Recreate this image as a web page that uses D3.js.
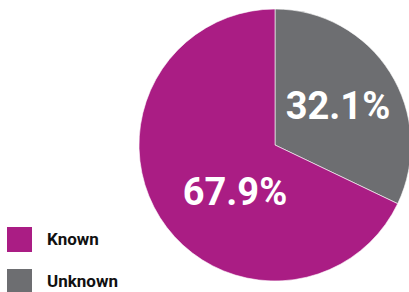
<!DOCTYPE html>
<html><head><meta charset="utf-8">
<script src="https://cdn.jsdelivr.net/npm/d3@7"></script>
<style>body{margin:0;background:#fff}svg{display:block}</style>
</head><body>
<script>
const categories = ["Unknown", "Known"];
const values = [32.1, 67.9];
const labels = ["32.1%", "67.9%"];
const legendOrder = ["Known", "Unknown"];
const colors = {Known: "#AA1D84", Unknown: "#6D6E71"};

const W = 409, H = 292;
const svg = d3.select("body").append("svg").attr("width", W).attr("height", H);
const cx = 275, cy = 145, r = 136;
const pie = d3.pie().sort(null).value(d => d.v);
const data = pie(categories.map((c, i) => ({c, v: values[i], l: labels[i]})));
const arc = d3.arc().innerRadius(0).outerRadius(r);
const g = svg.append("g").attr("transform", `translate(${cx},${cy})`);
g.selectAll("path").data(data).join("path")
  .attr("d", arc).attr("fill", d => colors[d.data.c])
  .attr("stroke", "#fff").attr("stroke-width", 0.6);
const labelPos = {Unknown: [63, -26], Known: [-40, 60]};
g.selectAll("text").data(data).join("text")
  .attr("x", d => labelPos[d.data.c][0]).attr("y", d => labelPos[d.data.c][1])
  .attr("text-anchor", "middle")
  .attr("font-family", "Roboto, sans-serif").attr("font-weight", 700)
  .attr("font-size", 38).attr("fill", "#fff")
  .text(d => d.data.l);

const lg = svg.append("g");
const y = d3.scalePoint().domain(legendOrder).range([227, 269]);
legendOrder.forEach(k => {
  lg.append("rect").attr("x", 7).attr("y", y(k)).attr("width", 25).attr("height", 25).attr("fill", colors[k]);
  lg.append("text").attr("x", 47).attr("y", y(k) + 18)
    .attr("font-family", "Roboto, sans-serif").attr("font-weight", 700).attr("font-size", 17)
    .attr("fill", "#111").text(k);
});
</script>
</body></html>
